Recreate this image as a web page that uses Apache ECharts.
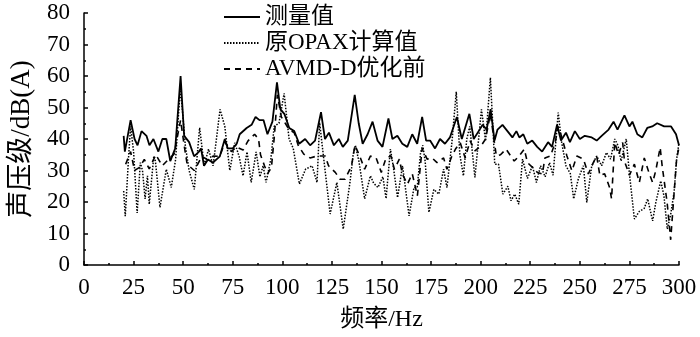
<!DOCTYPE html>
<html>
<head>
<meta charset="utf-8">
<script src="https://cdn.jsdelivr.net/npm/echarts@6/dist/echarts.min.js"></script>
<style>
  html, body { margin: 0; padding: 0; background: #fff; }
  #chart { width: 700px; height: 337px; }
</style>
</head>
<body>
<div id="chart"></div>
<script>
// 声压级频谱 [频率 Hz, dB(A)]
const seriesNames = ['测量值', '原OPAX计算值', 'AVMD-D优化前'];

const measured = [[20,41],[20.6,36],[23.5,46],[25.5,40],[27,38],[29,42.5],[31.5,41],[33,38],[35,40],[37.5,36],[39.5,40],[41.5,40],[43.5,33],[46,37],[48.7,60],[50.5,41],[53,39],[55.5,34.5],[58,36],[59,37],[60.5,31.5],[62.5,33.5],[65,32.5],[68.5,34.5],[71,40],[72.5,37],[75,37],[77,38.5],[78.5,41.5],[82,43.5],[84.5,44.5],[86.5,47],[88.5,46],[90.5,46],[92.5,41.5],[95,45.5],[97.3,58],[99,49.5],[101,48],[103.5,43.5],[106,42.5],[108.5,38.5],[111.5,40],[114,38],[116.5,39.5],[119.5,48.5],[121.5,40],[123.5,42],[126,38],[128.5,40],[130.5,37.5],[133,39.5],[136.5,54],[138.5,45],[140.5,38.5],[143,41.5],[145.5,45.5],[148,39.5],[150.5,37.5],[153.5,46.5],[155.5,40],[158,41],[160.5,38.5],[163,37.5],[165.5,41.5],[168,38.5],[170.5,47],[172.5,39.5],[174.5,39.5],[177,37],[179.5,40],[182,38.5],[184.5,40.5],[188,47],[190.5,40],[194.3,48],[196.5,40],[199,42.5],[201,44.5],[203,43],[205,49.5],[207,39.5],[208.5,43],[211,44.5],[213.5,42.5],[216,40.5],[218,42.5],[219.5,40.5],[221.5,41.5],[223.5,38.5],[226,39.5],[228.5,37.5],[231,36],[234,39],[236,37.5],[238.5,44.5],[240.5,39.5],[243,42],[245,39],[247.5,42.5],[250,40],[252.5,41],[256,40.5],[258.5,39.5],[261,41],[264.5,43],[267,45.5],[269,43],[272.5,47.5],[275,44],[276.5,45.5],[279,41.5],[281.5,40.5],[284,43.5],[286.5,44],[289,45],[292.5,44],[296,44],[298.5,41.5],[300,38]];

const opax = [[20,23.5],[20.8,15.5],[22.5,34.5],[23.5,44],[25,36],[26.8,16.5],[28.4,32.5],[29.5,30],[30.8,21],[32,28.3],[32.9,19.3],[35.2,34.6],[36,33],[38.3,18.3],[41.5,30.4],[44,24.6],[46.2,33.6],[48.5,56],[49.5,50],[51.1,37.8],[53,30],[55.6,24],[58.3,43.6],[60.6,31.5],[62.8,36.8],[65.1,31.5],[68.6,49.4],[71,44],[73.5,30],[76,38.8],[78.2,34.5],[80.2,28.3],[82.2,35.9],[84.3,26.2],[86.8,35.9],[88.7,28],[90.3,31.5],[91.8,26.2],[94.2,33.6],[95.9,44],[98.3,45],[100.9,54.5],[103.4,40],[105.5,37],[108.6,25.7],[111.7,30.4],[115,31.5],[117.5,26.2],[118.8,45.2],[120.9,33.6],[124.1,16.2],[127.5,26.2],[130.7,11.4],[134.1,26.2],[135.7,35],[136.8,38],[138.6,33],[141.5,21],[144.4,28.3],[146,26],[148.2,24.6],[150.7,28],[152.3,21.1],[154.5,36.8],[156,31],[158.1,21.4],[160.6,31.5],[163.9,15.6],[166.4,24.6],[168,24.6],[169.7,35.7],[170.8,38],[172,33],[173.9,16.7],[176.4,24],[178.9,22.5],[181.3,30.4],[183,24.6],[185.5,38.9],[187.7,55],[189.5,35],[191.3,28.3],[193,40],[194.5,44],[197.1,27.8],[200.4,49.4],[202.5,39.4],[204.9,59.5],[207.1,32],[209,32],[211.2,22.5],[213.7,25],[215.3,20.4],[217.2,22.5],[219.2,19.3],[221.1,33.6],[223.6,27.5],[226.1,31.5],[228.1,26.2],[230.2,31.5],[232.5,28],[234.7,32.5],[236.5,28.5],[239.1,48.4],[240.7,39.4],[243,31.5],[245.2,29],[246.9,21],[249.3,27.5],[251.8,31.5],[253.5,19.9],[256,31.5],[258.5,34.6],[261,31.5],[263.4,35.7],[265.5,33.6],[267.6,40],[269.2,38],[270.8,33],[273.4,40],[275,29],[277.5,14.6],[280,17],[282.5,18],[284.2,21],[286.7,14],[288.3,19.8],[290.8,26.7],[292.4,22],[294.1,11.4],[295.8,16],[297.5,23],[298.8,33.6],[300,38.8]];

const avmd = [[21,32],[23.5,36],[25.5,30],[28,31],[30.4,33.5],[32.9,30.5],[36.2,35],[39.5,31.5],[42.5,33.5],[45.4,35.2],[48.7,46],[50.5,38],[52,32],[55.6,30],[59.5,34.5],[62,33.5],[65.3,34.6],[68.5,34.5],[71,39],[74.3,36],[76.8,37.5],[80.2,36.5],[82.7,39.4],[86,41.5],[88,40],[89,35],[91,31.5],[92.6,29],[94.5,31],[96,41],[97.5,54],[99.5,47],[103.4,43],[106,42],[108,38],[110.8,35.2],[114,34],[117.5,34.6],[121.6,34.6],[123.3,31.5],[126.7,29.4],[129.1,27.2],[131.6,27.2],[134.9,31.5],[136.6,38],[139,34.6],[141.5,30.4],[144.4,34.6],[147.3,34],[149.9,29.4],[152.3,34],[154.8,34.6],[156.5,30.4],[159,33.6],[160.6,28.7],[163.1,25.7],[165.5,29],[168.1,22],[170.5,37],[173,33.6],[175.5,34],[178,32.5],[181.3,34],[183,30.4],[185.5,34.6],[187.5,37],[189.7,38.8],[192.2,34],[194.7,39.4],[197.1,36.2],[200.4,38],[202.5,40],[204.9,48],[207.9,34.6],[210,35],[212.8,36.8],[216.9,33],[219.4,34.6],[222,36.8],[223.6,32.5],[226.1,31],[228.6,29.4],[231.1,28.9],[232.4,34],[235.2,34.6],[237.6,39],[239.1,44],[240.7,41],[243.5,34.6],[246,29.9],[248.5,34.6],[251.8,33.6],[254.3,28.9],[256.8,32.5],[258.5,34.6],[260.1,28.4],[262.5,29],[265,24.6],[266,21],[267.6,38.9],[269.5,35],[271.6,38.9],[272.5,33],[275,28.5],[277.5,32],[280,26.2],[282.5,34],[285,29],[286.7,26.2],[288.3,30],[290.5,37.3],[291.5,31.5],[294,19.9],[295.8,8],[297.5,22.6],[298.8,33.6],[300,37.4]];

const fontFam = '"Liberation Serif", "Noto Sans CJK SC", serif';

const myChart = echarts.init(document.getElementById('chart'));
myChart.setOption({
    animation: false,
    backgroundColor: '#fff',
    color: ['#000', '#000', '#000'],
    textStyle: { fontFamily: fontFam, color: '#000' },
    grid: { left: 76, right: 21, top: 13, bottom: 71 },
    legend: {
        orient: 'vertical',
        left: 218,
        top: 0,
        itemWidth: 36,
        itemHeight: 14,
        itemGap: 2,
        data: seriesNames,
        itemStyle: { opacity: 0 },
        textStyle: { fontFamily: fontFam, fontSize: 23, color: '#000', lineHeight: 24 }
    },
    xAxis: {
        type: 'value',
        min: 0,
        max: 300,
        interval: 25,
        name: '频率/Hz',
        nameLocation: 'middle',
        nameGap: 43,
        nameTextStyle: { fontFamily: fontFam, fontSize: 24, color: '#000' },
        axisLine: { lineStyle: { color: '#000', width: 1.5 } },
        axisTick: { inside: true, length: 4, lineStyle: { color: '#000', width: 1.5 } },
        minorTick: { show: true, splitNumber: 2, length: 2, lineStyle: { color: '#000', width: 1.5 } },
        axisLabel: { margin: 11, fontSize: 23, color: '#000', fontFamily: fontFam },
        splitLine: { show: false }
    },
    yAxis: {
        type: 'value',
        min: 0,
        max: 80,
        interval: 10,
        name: '声压级/dB(A)',
        nameLocation: 'middle',
        nameGap: 49,
        nameTextStyle: { fontFamily: fontFam, fontSize: 27, color: '#000' },
        axisLine: { show: true, lineStyle: { color: '#000', width: 1.5 } },
        axisTick: { show: true, inside: true, length: 4, lineStyle: { color: '#000', width: 1.5 } },
        minorTick: { show: true, splitNumber: 2, length: 2, lineStyle: { color: '#000', width: 1.5 } },
        axisLabel: { margin: 14, fontSize: 23, color: '#000', fontFamily: fontFam },
        splitLine: { show: false }
    },
    series: [
        {
            name: seriesNames[2],
            type: 'line',
            data: avmd,
            symbol: 'none',
            z: 2,
            itemStyle: { color: '#000' },
            lineStyle: { color: '#000', width: 1.6, type: [6, 5] }
        },
        {
            name: seriesNames[1],
            type: 'line',
            data: opax,
            symbol: 'none',
            z: 3,
            itemStyle: { color: '#000' },
            lineStyle: { color: '#000', width: 1.5, type: [1.5, 1.5] }
        },
        {
            name: seriesNames[0],
            type: 'line',
            data: measured,
            symbol: 'none',
            z: 4,
            itemStyle: { color: '#000' },
            lineStyle: { color: '#000', width: 1.8 }
        }
    ]
});
</script>
</body>
</html>
